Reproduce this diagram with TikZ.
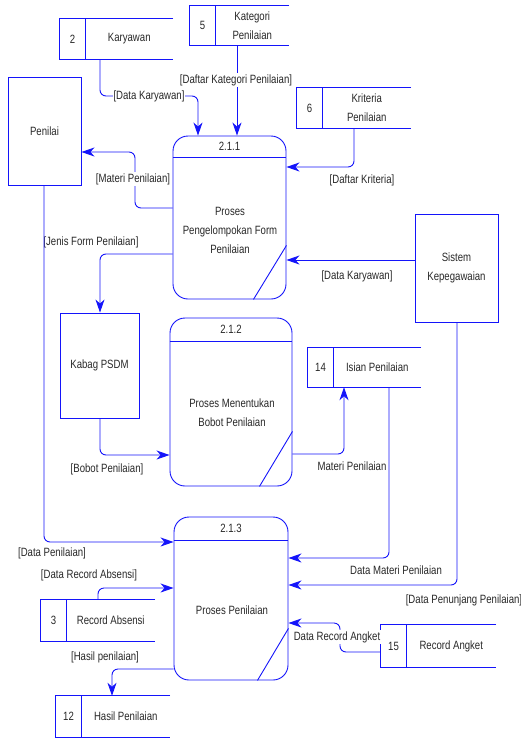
\documentclass[tikz,border=0pt]{standalone}
\usepackage{fontspec}
\setmainfont{Liberation Sans}[FakeStretch=0.8]
\usetikzlibrary{arrows.meta,calc}
\definecolor{dfblue}{RGB}{20,20,250}
\definecolor{txt}{RGB}{40,40,40}
\newcommand{\dffont}{\fontsize{12pt}{19pt}\selectfont}
\tikzset{
  ln/.style={draw=dfblue, line width=0.9pt},
  flow/.style={ln, rounded corners=6pt, -{Stealth[length=13pt,width=9pt,inset=4pt]}},
  ent/.style={ln, rectangle, inner sep=0pt},
  proc/.style={ln, rectangle, rounded corners=15pt, inner sep=0pt},
  storebox/.style={rectangle, inner sep=0pt},
  txtnode/.style={font=\dffont, text=txt, align=center, inner sep=1pt},
  lbl/.style={font=\dffont, text=txt, inner sep=1pt},
  lblw/.style={lbl, fill=white}
}
\newcommand{\dfstore}[6]{%
  \node[storebox, minimum width=#3pt, minimum height=#4pt] (#1) at (#2) {};
  \draw[ln] (#1.north east) -- (#1.north west) -- (#1.south west) -- (#1.south east);
  \draw[ln] ([xshift=25.5pt]#1.north west) -- ([xshift=25.5pt]#1.south west);
  \node[txtnode] (#1n) at ([xshift=12.75pt]#1.west) {#5};
  \node[txtnode] (#1t) at ($([xshift=25.5pt]#1.west)!0.5!(#1.east)$) {#6};
}
\begin{document}
\begin{tikzpicture}[x=1pt,y=-1pt]
\useasboundingbox (0,0) rectangle (521,739);

% data stores
\dfstore{s2}{116.5,39}{113}{40}{2}{Karyawan}
\dfstore{s5}{239.5,25.5}{99}{39}{5}{Kategori\\Penilaian}
\dfstore{s6}{354,108}{114}{40}{6}{Kriteria\\Penilaian}
\dfstore{s14}{364.5,367.5}{113}{39}{14}{Isian Penilaian}
\dfstore{s3}{98,620.5}{114}{41}{3}{Record Absensi}
\dfstore{s12}{113,716.5}{114}{41}{12}{Hasil Penilaian}
\dfstore{s15}{438.5,646}{115}{42}{15}{Record Angket}

% entities
\node[ent, minimum width=73pt, minimum height=108pt] (e1) at (44.5,131) {};
\node[txtnode] (e1t) at (e1) {Penilai};
\node[ent, minimum width=79pt, minimum height=105pt] (e2) at (99.5,365.5) {};
\node[txtnode] (e2t) at (e2) {Kabag PSDM};
\node[ent, minimum width=83pt, minimum height=108pt] (e3) at (456.5,268) {};
\node[txtnode] (e3t) at (e3) {Sistem\\Kepegawaian};

% processes
\node[proc, minimum width=113pt, minimum height=163pt] (p1) at (229.5,217.5) {};
\draw[ln] ([yshift=-22pt]p1.north west) -- ([yshift=-22pt]p1.north east);
\draw[ln] ([xshift=-33pt]p1.south east) -- ([yshift=54pt]p1.south east);
\node[txtnode] (p1h) at ([yshift=-11pt]p1.north) {2.1.1};
\node[txtnode] (p1t) at (230,230) {Proses\\Pengelompokan Form\\Penilaian};

\node[proc, minimum width=122pt, minimum height=168pt] (p2) at (231,402) {};
\draw[ln] ([yshift=-24pt]p2.north west) -- ([yshift=-24pt]p2.north east);
\draw[ln] ([xshift=-33pt]p2.south east) -- ([yshift=55pt]p2.south east);
\node[txtnode] (p2h) at ([yshift=-12pt]p2.north) {2.1.2};
\node[txtnode] (p2t) at (232,413) {Proses Menentukan\\Bobot Penilaian};

\node[proc, minimum width=114pt, minimum height=163pt] (p3) at (231,598.5) {};
\draw[ln] ([yshift=-24pt]p3.north west) -- ([yshift=-24pt]p3.north east);
\draw[ln] ([xshift=-31pt]p3.south east) -- ([yshift=52pt]p3.south east);
\node[txtnode] (p3h) at ([yshift=-12pt]p3.north) {2.1.3};
\node[txtnode] (p3t) at (232,610) {Proses Penilaian};

% flows
\draw[flow] ([xshift=-16.5pt]s2.south) -- (100,96) -- (198,96) -- ([xshift=-31.5pt]p1.north);
\node[lblw] (l1) at (149,96) {[Data Karyawan]};

\draw[flow] ([xshift=-2.5pt]s5.south) -- ([xshift=7.5pt]p1.north);
\node[lblw] (l2) at (236,80) {[Daftar Kategori Penilaian]};

\draw[flow] (s6.south) -- (354,167) -- ([yshift=50.5pt]p1.east);
\node[lbl] (l3) at (362,180) {[Daftar Kriteria]};

\draw[flow] ([yshift=9.5pt]p1.west) -- (135,208) -- (135,152) -- ([yshift=-21pt]e1.east);
\node[lblw] (l4) at (133,179) {[Materi Penilaian]};

\draw[flow] ([yshift=-36.5pt]p1.west) -- (100,254) -- ([xshift=0.5pt]e2.north);
\node[lbl] (l5) at (91,242) {[Jenis Form Penilaian]};

\draw[flow] ([yshift=8pt]e3.west) -- ([yshift=-42.5pt]p1.east);
\node[lbl] (l6) at (357,276) {[Data Karyawan]};

\draw[flow] ([xshift=0.5pt]e2.south) -- (100,455) -- ([yshift=-53pt]p2.west);
\node[lbl] (l7) at (107,469) {[Bobot Penilaian]};

\draw[flow] ([yshift=-52pt]p2.east) -- (344,454) -- ([xshift=-20.5pt]s14.south);
\node[lbl] (l8) at (352,466) {Materi Penilaian};

\draw[flow] ([xshift=24.5pt]s14.south) -- (389,558) -- ([yshift=40.5pt]p3.east);
\node[lbl] (l9) at (396,570) {Data Materi Penilaian};

\draw[flow] ([xshift=0.5pt]e3.south) -- (457,585) -- ([yshift=13.5pt]p3.east);
\node[lbl] (l10) at (464,600) {[Data Penunjang Penilaian]};

\draw[flow] ([xshift=-0.5pt]e1.south) -- (44,542) -- ([yshift=56.5pt]p3.west);
\node[lbl] (l11) at (52,553) {[Data Penilaian]};

\draw[flow] (s3.north) -- (98,588) -- ([yshift=10.5pt]p3.west);
\node[lbl] (l12) at (89,575) {[Data Record Absensi]};

\draw[flow] ([yshift=-70.5pt]p3.west) -- (112,669) -- ([xshift=-1pt]s12.north);
\node[lbl] (l13) at (105,657) {[Hasil penilaian]};

\draw[flow] ([yshift=-6pt]s15.west) -- (340,652) -- (340,623) -- ([yshift=-24.5pt]p3.east);
\node[lblw] (l14) at (337,637) {Data Record Angket};
\end{tikzpicture}
\end{document}
